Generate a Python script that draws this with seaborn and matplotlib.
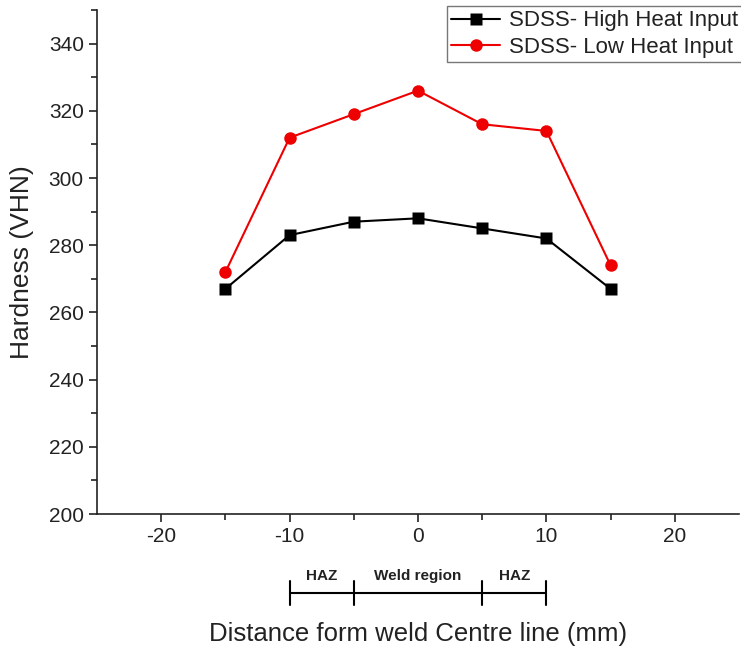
import numpy as np
import pandas as pd
import matplotlib
matplotlib.use("Agg")
import matplotlib.pyplot as plt
import matplotlib.transforms as mtransforms
from matplotlib.lines import Line2D
import seaborn as sns

distance = [-15, -10, -5, 0, 5, 10, 15]
high_heat = [267, 283, 287, 288, 285, 282, 267]
low_heat = [272, 312, 319, 326, 316, 314, 274]
series_names = ["SDSS- High Heat Input", "SDSS- Low Heat Input"]
region_labels = ["HAZ", "Weld region", "HAZ"]
region_bounds = [-10, -5, 5, 10]

sns.set_style("ticks")
plt.rcParams["font.family"] = ["Liberation Sans", "DejaVu Sans"]
plt.rcParams["axes.unicode_minus"] = False

df = pd.DataFrame({
    "x": distance * 2,
    "y": high_heat + low_heat,
    "series": [series_names[0]] * len(distance) + [series_names[1]] * len(distance),
})

fig = plt.figure(figsize=(7.41, 6.48), dpi=100)
ax = fig.add_axes([97/741, 1-514/648, (739-97)/741, (514-10)/648])

sns.lineplot(data=df, x="x", y="y", hue="series", style="series",
             palette={series_names[0]: "black", series_names[1]: "#ee0000"},
             markers={series_names[0]: "s", series_names[1]: "o"},
             dashes=False, markersize=9, linewidth=1.5,
             markeredgecolor="none", ax=ax, legend=False)

ax.set_xlim(-25, 25)
ax.set_ylim(200, 350)
ax.set_xticks([-20, -10, 0, 10, 20])
ax.set_xticks([-15, -5, 5, 15], minor=True)
ax.set_yticks(np.arange(200, 341, 20))
ax.set_yticks(np.arange(210, 351, 20), minor=True)
ax.tick_params(axis="both", which="major", length=6, width=1.2, labelsize=15,
               color="#222222", labelcolor="#222222")
ax.tick_params(axis="both", which="minor", length=4, width=1.2, color="#222222")
for s in ["top", "right"]:
    ax.spines[s].set_visible(False)
for s in ["left", "bottom"]:
    ax.spines[s].set_linewidth(1.2)
    ax.spines[s].set_color("#222222")

ax.set_ylabel("Hardness (VHN)", fontsize=19, color="#222222")
ax.yaxis.set_label_coords((34-97)/642, 0.5)
ax.set_xlabel("Distance form weld Centre line (mm)", fontsize=18.5, color="#222222")
ax.xaxis.set_label_coords(0.5, (514-622)/504)

# Region bracket
trans = mtransforms.blended_transform_factory(ax.transData, ax.transAxes)
yb = (514-593)/504
ax.plot([region_bounds[0], region_bounds[-1]], [yb, yb], color="black", lw=1.5,
        transform=trans, clip_on=False)
for b in region_bounds:
    ax.plot([b, b], [(514-581)/504, (514-605)/504], color="black", lw=1.5,
            transform=trans, clip_on=False)
for i, lab in enumerate(region_labels):
    xc = (region_bounds[i] + region_bounds[i+1]) / 2
    ax.text(xc, (514-576)/504, lab, transform=trans, ha="center", va="center",
            fontsize=11, fontweight="bold", color="#222222")

# Legend
handles = [
    Line2D([], [], color="black", marker="s", markersize=8, lw=1.5, markeredgecolor="none"),
    Line2D([], [], color="#ee0000", marker="o", markersize=9, lw=1.5, markeredgecolor="none"),
]
leg = fig.legend(handles, series_names, loc="upper left",
                 bbox_to_anchor=(447/741, 1-6/648), fontsize=16,
                 frameon=True, fancybox=False, edgecolor="#555555",
                 handlelength=2.2, handletextpad=0.4, borderpad=0.2,
                 labelspacing=0.25, borderaxespad=0)
leg.get_frame().set_linewidth(1.0)
for t in leg.get_texts():
    t.set_color("#222222")

fig.savefig("out.png", dpi=100)
